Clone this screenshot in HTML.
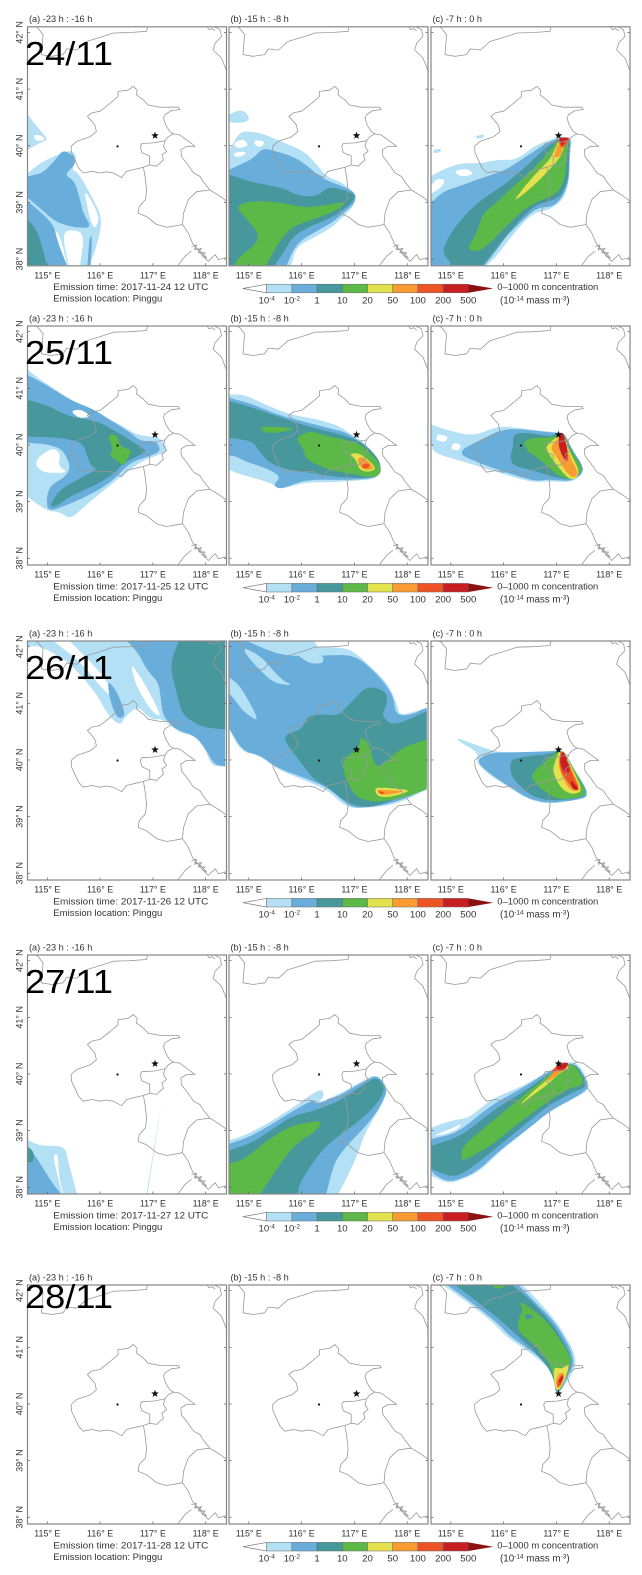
<!DOCTYPE html>
<html lang="en">
<head>
<meta charset="utf-8">
<title>Footprint concentration maps, Pinggu, 24-28 November 2017</title>
<style>
html,body{margin:0;padding:0;background:#fff;}
svg{display:block;font-family:"Liberation Sans",sans-serif;}
</style>
</head>
<body>
<svg id="chart" xmlns="http://www.w3.org/2000/svg" width="642" height="1575" viewBox="0 0 642 1575"></svg>
<script>
// ---------- labels ----------
const dayLabels = ['24/11','25/11','26/11','27/11','28/11'];
const emissionDates = ['2017-11-24','2017-11-25','2017-11-26','2017-11-27','2017-11-28'];
const panelTitles = ['(a) -23 h : -16 h','(b) -15 h : -8 h','(c) -7 h : 0 h'];
const lonTicks = [115,116,117,118];
const latTicks = [38,39,40,41,42];
const colorbarLabels = [['10','-4'],['10','-2'],['1',''],['10',''],['20',''],['50',''],['100',''],['200',''],['500','']];
const levelColors = ['#ffffff','#b4e0f5','#69aedb','#46989c','#5cb947','#e3e14e','#f99b33','#ee5325','#c81e22'];

// ---------- locations (lon, lat) ----------
const receptorStar = [117.04,40.18];
const cityDot = [116.33,39.99];

// ---------- boundaries (lon, lat) ----------
const beijingBorder = [[116.63,41.05],[116.70,40.98],[116.69,40.90],[116.82,40.81],[116.91,40.72],[117.13,40.68],[117.48,40.68],[117.51,40.64],[117.35,40.62],[117.23,40.55],[117.20,40.49],[117.24,40.37],[117.32,40.25],[117.39,40.21],[117.29,40.16],[117.23,40.09],[117.01,40.05],[116.79,40.04],[116.76,39.99],[116.79,39.88],[116.94,39.82],[116.94,39.66],[116.82,39.62],[116.63,39.58],[116.5,39.55],[116.41,39.44],[116.25,39.52],[116.12,39.54],[116,39.52],[115.84,39.55],[115.68,39.52],[115.59,39.61],[115.52,39.75],[115.46,39.87],[115.45,39.99],[115.56,40.08],[115.81,40.16],[115.93,40.25],[115.9,40.37],[115.76,40.52],[115.84,40.58],[116,40.61],[116.19,40.75],[116.34,40.87],[116.34,40.96],[116.53,40.98],[116.63,41.05]];
const innerBorder = [[117.23,40.09],[117.2,39.99],[117.26,39.9],[117.17,39.84],[117.2,39.75],[117.07,39.64],[116.94,39.66]];
const easternBorder = [[117.39,40.21],[117.51,40.19],[117.67,40.08],[117.8,39.99],[117.64,39.99],[117.53,39.93],[117.54,39.81],[117.64,39.69],[117.77,39.52],[117.89,39.46],[117.95,39.37],[118.08,39.22],[118.27,39.11],[118.4,39.02]];
const coastLine = [[118.08,39.22],[117.83,39.19],[117.67,39.05],[117.58,38.81],[117.56,38.61],[117.67,38.46],[117.75,38.28],[117.83,38.19],[117.95,38.05],[118.05,37.96],[118.18,38.08],[118.24,37.99],[118.4,38.03]];
const westernBorder = [[116.82,39.62],[116.85,39.46],[116.88,39.22],[116.86,39.05],[116.74,38.93],[116.72,38.81],[116.88,38.75],[117.07,38.61],[117.26,38.56],[117.45,38.59],[117.56,38.61]];
const southernBorder = [[117.48,37.89],[117.61,38.05],[117.73,38.14]];
const islandLine = [[117.73,38.22],[117.83,38.25],[117.79,38.16],[117.92,38.19],[117.86,38.11],[117.99,38.11],[117.93,38.06],[118.02,38.02],[117.88,38.16],[117.78,38.2]];
const northernBorder = [[114.75,42.11],[114.82,42.08],[114.92,41.96],[114.89,41.61],[115.08,41.58],[115.3,41.61],[115.37,41.71],[115.56,41.69],[115.74,41.84],[116.06,41.93],[116.25,41.99],[116.57,42],[116.88,42.02],[116.9,42.11]];
const northeastBorder = [[118.14,42.11],[118.27,42.05],[118.3,41.93],[118.18,41.81],[118.14,41.69],[118.3,41.55],[118.4,41.31]];
const smallBorder = [[118.02,42.11],[118.06,42.05],[118.12,42.07],[118.18,42.03]];
const boundaryLines = [beijingBorder,innerBorder,easternBorder,coastLine,westernBorder,southernBorder,islandLine,northernBorder,northeastBorder,smallBorder];

// ---------- concentration contours (lon, lat) ----------
// 24/11 panel a
const d24aL1a = [[114.63,40.55],[114.83,40.31],[115.02,40.11],[114.86,40.05],[114.63,39.93]];
const d24aGapA = [[114.74,40.2],[114.9,40.18],[114.96,40.1],[114.78,40.08]];
const d24aL1b = [[114.63,39.52],[114.86,39.69],[115.18,39.84],[115.46,39.93],[115.57,39.78],[115.46,39.58],[115.59,39.52],[115.81,39.16],[116.03,38.75],[116,38.46],[115.87,38.05],[115.78,37.89],[115.37,37.89],[115.3,38.22],[115.18,38.52],[114.63,38.81]];
const d24aHole1 = [[115.27,38.52],[115.71,38.49],[115.62,37.89],[115.4,37.89]];
const d24aHole2 = [[115.68,39.28],[116,38.75],[115.9,38.52],[115.81,38.69]];
const d24aL2a = [[114.63,39.46],[114.92,39.52],[115.15,39.75],[115.3,39.93],[115.52,39.81],[115.52,39.66],[115.33,39.49],[115.52,39.37],[115.62,39.05],[115.68,38.81],[115.84,38.55],[115.49,38.56],[115.15,38.66],[114.86,38.9],[114.63,39.08]];
const d24aL2b = [[114.63,39.02],[114.86,38.84],[115.12,38.6],[115.2,38.3],[115.37,37.89],[114.63,37.89]];
const d24aL2c = [[115.8,38.4],[115.85,38.4],[115.82,37.89],[115.76,37.89]];
const d24aL3 = [[114.63,38.69],[114.8,38.52],[114.92,38.16],[114.99,37.89],[114.63,37.89]];
// 24/11 panel b
const d24bL1a = [[114.63,39.93],[114.83,40.25],[115.08,40.25],[115.33,40.19],[115.52,40.11],[115.84,39.99],[116.09,39.87],[116.31,39.64],[116.47,39.46],[116.79,39.34],[117.04,39.14],[116.98,38.93],[116.79,38.75],[116.6,38.58],[116.34,38.43],[115.9,38.22],[115.8,37.89],[114.63,37.89]];
const d24bGapA = [[114.7,40.05],[114.9,40.12],[115,40],[114.78,39.95]];
const d24bGapB = [[115.1,40.1],[115.3,40.08],[115.25,39.98],[115.12,40]];
const d24bGapC = [[114.72,39.88],[114.95,39.9],[114.9,39.82],[114.72,39.8]];
const d24bL1b = [[114.63,40.55],[114.8,40.63],[114.95,40.6],[115.02,40.45],[114.85,40.4],[114.63,40.42]];
const d24bL2 = [[114.63,39.58],[114.89,39.69],[115.08,39.78],[115.27,39.96],[115.52,39.9],[115.84,39.81],[116.09,39.66],[116.34,39.46],[116.53,39.37],[116.79,39.28],[117.03,39.16],[117.01,38.99],[116.79,38.81],[116.6,38.66],[116.34,38.52],[116,38.34],[115.84,38.16],[115.72,37.89],[114.63,37.89]];
const d24bL3 = [[114.63,39.49],[115.02,39.37],[115.33,39.31],[115.65,39.25],[115.97,39.11],[116.28,39.11],[116.53,39.28],[116.79,39.22],[117.01,39.14],[116.98,39.02],[116.79,38.87],[116.6,38.75],[116.34,38.64],[116.16,38.58],[115.84,38.4],[115.65,38.11],[115.49,37.89],[114.63,37.89]];
const d24bL4 = [[114.89,38.99],[115.21,39.03],[115.65,38.99],[116.09,38.9],[116.53,38.96],[116.85,39.02],[116.72,38.9],[116.53,38.81],[116.28,38.72],[115.84,38.58],[115.59,38.34],[115.33,37.89],[114.73,37.89],[114.8,38.02],[115.15,38.28],[115.18,38.46],[114.92,38.75],[114.77,38.9]];
// 24/11 panel c
const d24cL1 = [[114.62,39.46],[114.85,39.58],[115.17,39.69],[115.55,39.69],[115.86,39.75],[116.24,39.75],[116.62,40.02],[116.94,40.12],[117.06,40.16],[117.3,40.15],[117.26,39.87],[117.24,39.37],[117.13,39.05],[116.87,38.87],[116.56,38.81],[116.31,38.58],[116.05,38.28],[115.86,38.05],[115.68,37.89],[114.62,37.89]];
const d24cGapA = [[114.62,39.3],[114.75,39.42],[114.9,39.4],[114.8,39.25],[114.62,39.15]];
const d24cGapB = [[115.05,39.55],[115.3,39.6],[115.45,39.5],[115.2,39.45]];
const d24cL1b = [[114.68,39.93],[114.82,39.95],[114.8,39.88],[114.66,39.87]];
const d24cL1c = [[115.48,40.18],[115.65,40.2],[115.6,40.13],[115.48,40.13]];
const d24cL2 = [[114.62,38.99],[114.85,39.19],[115.23,39.31],[115.68,39.46],[116.05,39.58],[116.43,39.81],[116.81,40.05],[117.06,40.14],[117.28,40.15],[117.25,39.87],[117.24,39.4],[117.13,39.11],[116.94,38.93],[116.62,38.9],[116.31,38.64],[116.05,38.4],[115.83,38.11],[115.64,37.89],[114.62,37.89]];
const d24cL3 = [[114.85,38.19],[115.04,38.52],[115.36,38.87],[115.68,39.11],[116.05,39.34],[116.43,39.64],[116.75,39.93],[117.06,40.14],[117.26,40.15],[117.24,39.81],[117.22,39.4],[117.09,39.11],[116.87,39.02],[116.62,38.96],[116.37,38.75],[116.09,38.46],[115.86,38.19],[115.61,37.89],[115.04,37.89],[114.89,38.05]];
const d24cL4 = [[115.3,38.16],[115.49,38.46],[115.61,38.81],[115.86,38.99],[116.18,39.28],[116.56,39.58],[116.94,39.99],[117.06,40.14],[117.25,40.15],[117.19,39.81],[117.16,39.4],[117.03,39.19],[116.91,39.11],[116.65,39.02],[116.37,38.87],[116.05,38.58],[115.74,38.28],[115.55,38.14]];
const d24cL5 = [[116.19,39.02],[116.37,39.25],[116.62,39.52],[116.87,39.75],[117,39.99],[117.05,40.11],[117.16,39.99],[117.06,39.78],[116.87,39.58],[116.62,39.34],[116.37,39.14]];
const d24cL6 = [[116.94,39.78],[117.03,40.05],[117.13,39.99],[117.08,39.81]];
const d24cL7 = [[117.01,40.14],[117.28,40.15],[117.16,39.99],[117.09,39.96]];
const d24cL8 = [[117.05,40.14],[117.25,40.14],[117.16,40.08],[117.11,39.99],[117.08,40.05]];
// 25/11 panel a
const d25aL1 = [[114.6,41.35],[114.86,41.16],[115.25,40.92],[115.64,40.69],[116.06,40.51],[116.41,40.34],[116.72,40.17],[117.15,40.13],[117.28,39.92],[117.15,39.84],[116.8,39.72],[116.49,39.51],[116.1,39.22],[115.71,38.92],[115.44,38.69],[115.25,38.81],[114.98,38.84],[114.6,39.1]];
const d25aHole1 = [[114.82,39.78],[115.09,39.95],[115.25,39.86],[115.21,39.63],[115.4,39.51],[114.94,39.51],[114.78,39.63]];
const d25aL2 = [[114.6,41.25],[115.02,41.04],[115.4,40.81],[115.87,40.63],[116.18,40.45],[116.57,40.22],[116.76,40.07],[117.07,40.07],[117.15,39.89],[116.95,39.81],[116.57,39.69],[116.26,39.39],[115.95,39.19],[115.48,38.98],[115.02,38.82],[114.98,39.04],[115.05,39.28],[115.36,39.45],[115.44,39.63],[115.29,39.92],[115.02,40.01],[114.6,40.04]];
const d25aHole2 = [[115.44,40.6],[115.64,40.63],[115.84,40.5],[115.6,40.47]];
const d25aL3 = [[114.6,40.81],[115.02,40.69],[115.4,40.51],[115.75,40.45],[116.02,40.39],[116.33,40.22],[116.6,40.07],[116.76,39.97],[116.88,39.89],[116.72,39.81],[116.41,39.66],[116.29,39.51],[115.95,39.31],[115.44,39.1],[115.13,38.89],[115.05,38.95],[115.25,39.22],[115.64,39.42],[115.95,39.57],[115.83,39.63],[115.75,39.81],[115.67,40.04],[115.25,40.13],[114.6,40.15]];
const d25aL4 = [[116.14,40.19],[116.33,40.17],[116.37,39.98],[116.6,39.91],[116.53,39.78],[116.45,39.63],[116.33,39.72],[116.18,39.81],[116.24,39.92]];
// 25/11 panel b
const d25bL1 = [[114.6,40.89],[114.91,40.89],[115.3,40.72],[115.77,40.54],[116.31,40.45],[116.7,40.34],[116.93,40.19],[117.16,40.07],[117.47,39.75],[117.51,39.51],[117.36,39.39],[116.85,39.36],[116.47,39.34],[116.08,39.34],[115.61,39.22],[115.38,39.34],[114.84,39.48],[114.6,39.57]];
const d25bL2 = [[114.6,40.84],[115.07,40.72],[115.53,40.54],[116,40.42],[116.47,40.31],[116.85,40.22],[117.09,40.07],[117.47,39.75],[117.51,39.51],[117.36,39.41],[116.85,39.38],[116.31,39.39],[116,39.36],[115.61,39.22],[115.46,39.28],[115.61,39.45],[115.3,39.6],[114.99,39.69],[114.72,39.81],[114.6,39.81]];
const d25bL3 = [[114.6,40.78],[115.07,40.66],[115.53,40.51],[116,40.36],[116.47,40.25],[116.93,40.13],[117.16,40.04],[117.47,39.75],[117.51,39.51],[117.36,39.42],[116.93,39.42],[116.54,39.45],[116.16,39.51],[115.69,39.57],[115.38,39.69],[115.22,39.86],[115.07,40.07],[114.6,40.13]];
const d25bL4a = [[115.88,40.13],[116.16,40.25],[116.47,40.16],[116.93,40.07],[117.16,39.98],[117.47,39.69],[117.51,39.51],[117.36,39.42],[117.01,39.48],[116.47,39.57],[116.08,39.75],[116.04,39.92]];
const d25bL4b = [[115.19,40.32],[115.61,40.32],[115.88,40.28],[115.53,40.21],[115.3,40.22]];
const d25bL5 = [[116.89,39.84],[117.09,39.86],[117.32,39.69],[117.41,39.57],[117.24,39.52],[117.09,39.57],[117.05,39.69],[116.99,39.78]];
const d25bL6 = [[117.05,39.72],[117.12,39.81],[117.32,39.66],[117.36,39.57],[117.16,39.56]];
const d25bL7 = [[117.15,39.66],[117.28,39.68],[117.28,39.6],[117.16,39.58]];
// 25/11 panel c
const d25cL1 = [[114.63,40.36],[114.98,40.25],[115.44,40.16],[115.91,40.34],[116.37,40.29],[116.99,40.22],[117.15,40.21],[117.3,39.92],[117.52,39.6],[117.46,39.45],[117.26,39.34],[116.84,39.36],[116.53,39.34],[115.91,39.51],[115.29,39.69],[114.67,39.86],[114.63,40.04]];
const d25cGapA = [[114.75,40.2],[114.95,40.15],[114.9,40.05],[114.72,40.08]];
const d25cGapB = [[115.05,40.05],[115.2,40],[115.15,39.9],[115,39.92]];
const d25cL2 = [[115.21,39.92],[115.52,40.07],[115.91,40.25],[116.22,40.29],[116.99,40.21],[117.15,40.22],[117.3,39.92],[117.52,39.6],[117.46,39.46],[117.26,39.36],[116.84,39.39],[116.6,39.36],[116.06,39.51],[115.6,39.66],[115.21,39.81]];
const d25cL3 = [[116.18,40.19],[116.45,40.22],[116.88,40.15],[116.99,40.19],[117.13,40.21],[117.3,39.89],[117.5,39.6],[117.44,39.47],[117.26,39.38],[116.88,39.45],[116.6,39.54],[116.18,39.63],[116.12,39.81],[116.18,39.95]];
const d25cL4 = [[116.37,40.07],[116.6,40.13],[116.88,40.13],[117.03,40.17],[117.13,40.22],[117.3,39.86],[117.49,39.6],[117.42,39.47],[117.26,39.38],[116.99,39.48],[116.68,39.75],[116.45,39.89]];
const d25cL5 = [[116.8,39.98],[116.99,40.13],[117.13,40.22],[117.26,39.86],[117.44,39.54],[117.36,39.39],[117.22,39.41],[116.99,39.66],[116.84,39.86]];
const d25cL6 = [[116.88,39.95],[117.03,40.13],[117.13,40.22],[117.24,39.81],[117.42,39.51],[117.34,39.42],[117.22,39.48],[117.03,39.75]];
const d25cL7 = [[117.03,40.13],[117.13,40.23],[117.22,39.81],[117.22,39.69],[117.11,39.78]];
const d25cL8 = [[117.05,40.19],[117.13,40.23],[117.21,39.92],[117.21,39.72],[117.11,39.81],[117.04,39.98]];
// 26/11 panel a
const d26aL1 = [[114.6,42.12],[118.37,42.12],[118.37,39.88],[118.12,39.89],[118,40.16],[117.81,40.42],[117.5,40.48],[117.19,40.72],[116.95,40.72],[116.72,40.95],[116.49,40.78],[116.37,40.6],[116.14,40.81],[115.95,41.13],[115.71,41.42],[115.33,41.78],[114.86,42.01],[114.6,42.01]];
const d26aHole1 = [[115.09,42.12],[115.4,42.12],[116.02,41.54],[116.33,41.07],[116.1,41.19],[115.64,41.72]];
const d26aHole2 = [[116.57,41.72],[116.8,41.42],[117.07,40.95],[117.15,40.75],[116.95,40.89],[116.68,41.31]];
const d26aL2a = [[116.49,42.12],[118.37,42.12],[118.37,39.89],[118.16,39.92],[118,40.19],[117.81,40.42],[117.42,40.54],[117.19,40.78],[117.15,41.07],[117.11,41.36],[116.88,41.6],[116.72,41.89]];
const d26aL2b = [[116.14,41.42],[116.33,41.19],[116.49,40.78],[116.33,40.72],[116.18,41.07]];
const d26aL3 = [[117.5,42.12],[118.37,42.12],[118.37,40.54],[117.96,40.57],[117.57,40.78],[117.46,41.13],[117.34,41.6],[117.38,41.84]];
// 26/11 panel b
const d26bL1 = [[114.6,42.12],[115.61,42.12],[116.16,42.01],[116.85,41.98],[117.09,41.84],[117.63,41.36],[117.82,40.95],[117.86,40.78],[118.37,40.92],[118.37,39.48],[118.02,39.31],[117.63,39.19],[117.24,39.16],[116.85,39.16],[116.47,39.48],[116,39.66],[115.53,39.84],[115.22,40.07],[114.84,40.16],[114.6,40.6]];
const d26bL2 = [[114.6,42.12],[114.91,42.12],[115.61,41.84],[116.31,41.84],[117.01,41.86],[117.47,41.48],[117.74,41.13],[117.78,40.81],[118.02,40.78],[118.37,40.92],[118.37,39.51],[118.02,39.34],[117.63,39.22],[117.24,39.16],[116.93,39.16],[116.5,39.51],[116.04,39.69],[115.53,39.86],[115.22,40.08],[114.88,40.16],[114.6,40.6]];
const d26bStripe1 = [[114.84,42.01],[115.22,41.84],[115.61,41.42],[115.84,41.31],[115.46,41.36],[115.07,41.72]];
const d26bStripe2 = [[115.61,42.12],[116.23,42.12],[116.47,41.72],[116.16,41.69],[115.84,41.91]];
const d26bStripe3 = [[114.6,41.48],[114.84,41.31],[115.22,40.66],[114.91,40.84],[114.68,41.13],[114.6,41.19]];
const d26bL3 = [[115.69,40.45],[116,40.54],[116.12,40.78],[116.39,40.81],[116.7,40.78],[116.93,41.01],[117.24,41.31],[117.59,41.22],[117.63,41.01],[117.51,40.78],[117.74,40.6],[118.37,40.86],[118.37,39.54],[117.63,39.25],[117.24,39.16],[116.93,39.22],[116.7,39.36],[116.47,39.54],[116.23,39.66],[116.04,39.89],[115.69,40.31]];
const d26bL4 = [[116.78,40.01],[117.09,40.22],[117.12,40.42],[117.28,40.28],[117.36,39.95],[117.47,39.86],[117.9,40.22],[118.37,40.36],[118.37,39.48],[118.02,39.36],[117.63,39.28],[117.32,39.26],[117.01,39.36],[116.81,39.72]];
const d26bL5 = [[117.38,39.51],[117.59,39.51],[118.05,39.47],[117.94,39.41],[117.63,39.34],[117.43,39.36]];
const d26bL6 = [[117.43,39.48],[117.59,39.47],[117.98,39.45],[117.63,39.38],[117.47,39.39]];
const d26bL7 = [[117.43,39.46],[117.59,39.42],[117.51,39.39]];
// 26/11 panel c
const d26cL1 = [[115.13,40.39],[115.52,40.25],[115.91,40.13],[116.45,40.13],[116.84,40.13],[117.03,40.19],[117.15,40.16],[117.3,39.89],[117.65,39.36],[117.3,39.28],[116.84,39.22],[116.45,39.31],[116.06,39.54],[115.75,39.72],[115.48,39.95],[115.52,40.13],[115.13,40.34]];
const d26cL2 = [[115.48,39.98],[115.71,40.13],[116.45,40.14],[117.03,40.16],[117.15,40.15],[117.3,39.89],[117.65,39.36],[117.3,39.28],[116.84,39.24],[116.49,39.31],[116.14,39.51],[115.75,39.75]];
const d26cL3 = [[116.14,40.01],[116.45,40.07],[116.84,40.1],[117.03,40.16],[117.15,40.15],[117.3,39.89],[117.61,39.38],[117.3,39.31],[116.88,39.28],[116.53,39.36],[116.18,39.66],[116.12,39.84]];
const d26cL4 = [[116.49,39.72],[116.76,39.95],[116.91,40.07],[117.03,40.16],[117.15,40.15],[117.3,39.89],[117.6,39.38],[117.3,39.32],[116.99,39.31],[116.68,39.51]];
const d26cL5 = [[116.93,39.84],[116.99,40.01],[117.05,40.16],[117.15,40.15],[117.3,39.86],[117.5,39.45],[117.3,39.39],[117.11,39.48],[116.99,39.66]];
const d26cL6 = [[117.03,39.89],[117.07,40.1],[117.15,40.13],[117.29,39.84],[117.46,39.48],[117.34,39.44],[117.19,39.54]];
const d26cL7 = [[117.05,40.01],[117.09,40.15],[117.16,40.13],[117.29,39.78],[117.44,39.48],[117.34,39.47],[117.22,39.6],[117.09,39.78]];
const d26cL8a = [[117.09,40.13],[117.15,40.14],[117.26,39.84],[117.22,39.75],[117.13,39.81],[117.07,39.95]];
const d26cL8b = [[117.26,39.66],[117.38,39.54],[117.42,39.47],[117.3,39.48]];
// 27/11 panel a
const d27aL1a = [[114.6,38.85],[114.86,38.73],[115.33,38.73],[115.4,38.44],[115.56,37.89],[114.6,37.89]];
const d27aGap = [[115.1,38.55],[115.2,38.6],[115.22,38.2],[115.3,37.89],[115.28,37.89]];
const d27aL1b = [[116.88,37.89],[117.14,39.38],[117.145,39.38],[116.9,37.89]];
const d27aL2 = [[114.6,38.76],[114.78,38.55],[115.09,38.08],[115.25,37.89],[114.6,37.89]];
const d27aL3 = [[114.6,38.73],[114.74,38.64],[114.74,38.44],[114.6,38.44]];
// 27/11 panel b
const d27bL1 = [[114.6,38.82],[114.91,38.91],[115.38,39.14],[115.84,39.41],[116.23,39.67],[116.39,39.73],[116.43,39.61],[116.31,39.49],[116.7,39.64],[117.09,39.85],[117.43,40.01],[117.64,39.73],[117.47,39.38],[117.2,38.96],[117.05,38.55],[116.81,38.08],[116.7,37.89],[114.6,37.89]];
const d27bL2 = [[114.6,38.76],[114.99,38.88],[115.38,39.08],[115.84,39.35],[116.23,39.55],[116.27,39.46],[116.7,39.61],[117.09,39.82],[117.43,39.99],[117.64,39.73],[117.47,39.38],[117.16,39.02],[116.85,38.73],[116.62,38.44],[116.47,37.89],[114.6,37.89]];
const d27bL3 = [[114.6,38.64],[115.07,38.79],[115.53,39.08],[115.84,39.26],[116.23,39.35],[116.7,39.52],[117.09,39.76],[117.43,39.96],[117.59,39.73],[117.4,39.44],[117.09,39.17],[116.78,38.96],[116.39,38.67],[116,38.14],[115.92,37.89],[114.6,37.89]];
const d27bL4 = [[114.6,38.41],[114.91,38.49],[115.3,38.79],[115.77,39.08],[116.39,39.19],[116.31,39.02],[115.84,38.73],[115.53,38.32],[115.22,37.89],[114.6,37.89]];
// 27/11 panel c
const d27cL1 = [[114.63,39.05],[114.98,39.17],[115.36,39.23],[115.75,39.55],[116.37,39.79],[116.84,40.05],[117.3,40.25],[117.5,40.08],[117.65,39.73],[117.3,39.55],[116.84,39.32],[116.37,38.96],[115.91,38.61],[115.52,38.26],[114.98,38.05],[114.63,38.2]];
const d27cGap = [[114.67,38.91],[115.05,39.05],[115.21,39.13],[115.13,39.02],[114.82,38.92]];
const d27cL2 = [[114.63,38.85],[115.13,38.96],[115.75,39.44],[116.37,39.76],[116.84,40.04],[117.34,40.24],[117.64,39.79],[117.46,39.64],[116.88,39.35],[116.45,39.02],[115.91,38.64],[115.48,38.26],[114.98,38.08],[114.67,38.23],[114.63,38.32]];
const d27cL3 = [[114.63,38.73],[115.21,38.91],[115.83,39.38],[116.45,39.73],[116.88,40.02],[117.34,40.23],[117.61,39.79],[117.3,39.67],[116.84,39.44],[116.37,39.08],[115.83,38.67],[115.36,38.32],[115.05,38.17],[114.63,38.32]];
const d27cL4 = [[115.21,38.7],[115.52,38.96],[116.14,39.44],[116.6,39.79],[116.91,40.02],[117.3,40.23],[117.57,39.82],[117.19,39.73],[116.76,39.46],[116.29,39.14],[115.75,38.73],[115.29,38.49],[115.19,38.49]];
const d27cL5 = [[116.26,39.41],[116.53,39.67],[116.84,39.91],[117.11,40.17],[117.26,40.11],[117.07,40.02],[116.8,39.79],[116.53,39.61]];
const d27cL6 = [[116.8,39.88],[116.99,40.08],[117.22,40.17],[117.11,40.05],[116.88,39.88]];
const d27cL7 = [[116.88,40.02],[117.03,40.17],[117.24,40.2],[117.15,40.05],[117.03,40.05]];
const d27cL8 = [[116.98,40.11],[117.11,40.2],[117.24,40.2],[117.16,40.09],[117.05,40.07]];
// 28/11 panel c
const d28cL1 = [[114.82,42.12],[116.33,42.12],[116.6,41.88],[116.99,41.47],[117.3,41],[117.38,40.71],[117.26,40.47],[117.09,40.24],[116.99,40.18],[116.95,40.47],[116.84,40.65],[116.45,40.94],[116.06,41.18],[115.83,41.41],[115.44,41.71]];
const d28cL2 = [[114.9,42.12],[116.26,42.12],[116.57,41.82],[116.95,41.47],[117.26,41],[117.34,40.71],[117.22,40.5],[117.09,40.24],[116.99,40.19],[116.95,40.47],[116.88,40.65],[116.53,40.94],[116.14,41.18],[115.87,41.44],[115.44,41.76]];
const d28cL3 = [[115.05,42.12],[116.14,42.12],[116.49,41.85],[116.91,41.44],[117.22,40.97],[117.3,40.71],[117.19,40.5],[117.09,40.26],[116.99,40.19],[116.95,40.44],[116.84,40.65],[116.57,40.94],[116.22,41.24],[115.91,41.5],[115.52,41.79]];
const d28cL4a = [[116.29,41.82],[116.53,41.68],[116.84,41.44],[117.19,40.97],[117.29,40.74],[117.19,40.56],[117.09,40.26],[117.01,40.24],[116.95,40.47],[116.88,40.71],[116.6,41.03],[116.26,41.29],[116.29,41.53],[116.37,41.65]];
const d28cL4b = [[115.79,42.12],[116.02,42.12],[116.02,42.06],[115.83,42.03]];
const d28cPocket = [[116.41,41.59],[116.57,41.56],[116.53,41.5],[116.41,41.5]];
const d28cL5 = [[116.95,40.65],[117.11,40.62],[117.24,40.72],[117.22,40.59],[117.15,40.41],[117.07,40.26],[116.99,40.24],[116.95,40.44]];
const d28cL6 = [[116.99,40.44],[117.07,40.56],[117.16,40.53],[117.09,40.32],[117.01,40.26]];
const d28cL7 = [[117.01,40.38],[117.09,40.52],[117.15,40.5],[117.09,40.34],[117.02,40.29]];
const d28cL8 = [[117.04,40.4],[117.11,40.5],[117.13,40.47],[117.07,40.36]];

// each entry: day index, panel index, contour level, contour
const contourLayers = [
 [0,0,1,d24aL1a],[0,0,0,d24aGapA],[0,0,1,d24aL1b],[0,0,0,d24aHole1],[0,0,0,d24aHole2],[0,0,2,d24aL2a],[0,0,2,d24aL2b],[0,0,2,d24aL2c],[0,0,3,d24aL3],
 [0,1,1,d24bL1a],[0,1,0,d24bGapA],[0,1,0,d24bGapB],[0,1,0,d24bGapC],[0,1,1,d24bL1b],[0,1,2,d24bL2],[0,1,3,d24bL3],[0,1,4,d24bL4],
 [0,2,1,d24cL1],[0,2,0,d24cGapA],[0,2,0,d24cGapB],[0,2,1,d24cL1b],[0,2,1,d24cL1c],[0,2,2,d24cL2],[0,2,3,d24cL3],[0,2,4,d24cL4],[0,2,5,d24cL5],[0,2,6,d24cL6],[0,2,7,d24cL7],[0,2,8,d24cL8],
 [1,0,1,d25aL1],[1,0,0,d25aHole1],[1,0,2,d25aL2],[1,0,0,d25aHole2],[1,0,3,d25aL3],[1,0,4,d25aL4],
 [1,1,1,d25bL1],[1,1,2,d25bL2],[1,1,3,d25bL3],[1,1,4,d25bL4a],[1,1,4,d25bL4b],[1,1,5,d25bL5],[1,1,6,d25bL6],[1,1,7,d25bL7],
 [1,2,1,d25cL1],[1,2,0,d25cGapA],[1,2,0,d25cGapB],[1,2,2,d25cL2],[1,2,3,d25cL3],[1,2,4,d25cL4],[1,2,5,d25cL5],[1,2,6,d25cL6],[1,2,7,d25cL7],[1,2,8,d25cL8],
 [2,0,1,d26aL1],[2,0,0,d26aHole1],[2,0,0,d26aHole2],[2,0,2,d26aL2a],[2,0,2,d26aL2b],[2,0,3,d26aL3],
 [2,1,1,d26bL1],[2,1,2,d26bL2],[2,1,1,d26bStripe1],[2,1,1,d26bStripe2],[2,1,1,d26bStripe3],[2,1,3,d26bL3],[2,1,4,d26bL4],[2,1,5,d26bL5],[2,1,6,d26bL6],[2,1,7,d26bL7],
 [2,2,1,d26cL1],[2,2,2,d26cL2],[2,2,3,d26cL3],[2,2,4,d26cL4],[2,2,5,d26cL5],[2,2,6,d26cL6],[2,2,7,d26cL7],[2,2,8,d26cL8a],[2,2,8,d26cL8b],
 [3,0,1,d27aL1a],[3,0,0,d27aGap],[3,0,1,d27aL1b],[3,0,2,d27aL2],[3,0,3,d27aL3],
 [3,1,1,d27bL1],[3,1,2,d27bL2],[3,1,3,d27bL3],[3,1,4,d27bL4],
 [3,2,1,d27cL1],[3,2,0,d27cGap],[3,2,2,d27cL2],[3,2,3,d27cL3],[3,2,4,d27cL4],[3,2,5,d27cL5],[3,2,6,d27cL6],[3,2,7,d27cL7],[3,2,8,d27cL8],
 [4,2,1,d28cL1],[4,2,2,d28cL2],[4,2,3,d28cL3],[4,2,4,d28cL4a],[4,2,4,d28cL4b],[4,2,3,d28cPocket],[4,2,5,d28cL5],[4,2,6,d28cL6],[4,2,7,d28cL7],[4,2,8,d28cL8]
];

// ---------- layout and axes ----------
const svg = document.getElementById('chart');
const NS = 'http://www.w3.org/2000/svg';
const rowTops = [26.8,326,641,955,1285];
const panelLefts = [27.5,229,431];
const panelW = 199, panelH = 239;
const lonMin = 114.625, latMax = 42.1, pxPerLon = 52.8, pxPerLat = 56.65;
const xAxis = (lon, p) => panelLefts[p] + (lon - lonMin) * pxPerLon;
const yAxis = (lat, r) => rowTops[r] + (latMax - lat) * pxPerLat;
const barLeft = 266.7, barStep = 25.2;
const barX = i => barLeft + i * barStep;

function mk(tag, attrs, parent) {
  const el = document.createElementNS(NS, tag);
  for (const k in attrs) el.setAttribute(k, attrs[k]);
  parent.appendChild(el);
  return el;
}
const pts = (arr, r, p) => arr.map(c => xAxis(c[0], p).toFixed(1) + ',' + yAxis(c[1], r).toFixed(1)).join(' ');

// round contour corners, leaving vertices on the map edge untouched
const onEdge = c => c[0] <= 114.64 || c[0] >= 118.36 || c[1] <= 37.9 || c[1] >= 42.11;
function rounded(arr) {
  let cur = arr;
  for (let it = 0; it < 2; it++) {
    const out = [];
    cur.forEach((c, i) => {
      if (onEdge(c)) { out.push(c); return; }
      const a = cur[(i - 1 + cur.length) % cur.length], b = cur[(i + 1) % cur.length];
      out.push([c[0] + (a[0] - c[0]) * 0.22, c[1] + (a[1] - c[1]) * 0.22]);
      out.push([c[0] + (b[0] - c[0]) * 0.22, c[1] + (b[1] - c[1]) * 0.22]);
    });
    cur = out;
  }
  return cur;
}

function starPoints(cx, cy, R) {
  const out = [];
  for (let i = 0; i < 10; i++) {
    const rad = i % 2 ? R * 0.42 : R;
    const a = -Math.PI / 2 + i * Math.PI / 5;
    out.push((cx + rad * Math.cos(a)).toFixed(1) + ',' + (cy + rad * Math.sin(a)).toFixed(1));
  }
  return out.join(' ');
}

dayLabels.forEach((day, r) => {
  const top = rowTops[r], bottom = top + panelH;
  const row = mk('g', {}, svg);
  
  

  panelTitles.forEach((title, p) => {
    const left = panelLefts[p];
    const panel = mk('g', {}, row);
    
    

    const clipId = 'clip-' + r + '-' + p;
    const clip = mk('clipPath', {id: clipId}, panel);
    mk('rect', {x: left, y: top, width: panelW, height: panelH}, clip);

    const plume = mk('g', {'clip-path': 'url(#' + clipId + ')'}, panel);
    
    
    const soft = mk('g', {style: 'filter:blur(.35px)'}, plume);
    contourLayers.filter(l => l[0] === r && l[1] === p).forEach(l => {
      const poly = mk('polygon', {points: pts(rounded(l[3]), r, p), fill: levelColors[l[2]]}, soft);
      
      
    });

    const borders = mk('g', {'clip-path': 'url(#' + clipId + ')', fill: 'none', stroke: '#999999', 'stroke-width': '0.8', 'stroke-linejoin': 'round'}, panel);
    
    
    boundaryLines.forEach(line => {
      const pl = mk('polyline', {points: pts(line, r, p)}, borders);
      
      
    });

    const dot = mk('circle', {cx: xAxis(cityDot[0], p), cy: yAxis(cityDot[1], r), r: 1.1, fill: '#111'}, panel);
    
    
    const star = mk('polygon', {points: starPoints(xAxis(receptorStar[0], p), yAxis(receptorStar[1], r), 4), fill: '#111'}, panel);
    
    

    latTicks.forEach(lat => {
      const y = yAxis(lat, r);
      const t1 = mk('line', {x1: left, x2: left + 2.5, y1: y, y2: y, stroke: '#555', 'stroke-width': '0.7'}, panel);
      
      
      const t2 = mk('line', {x1: left + panelW - 2.5, x2: left + panelW, y1: y, y2: y, stroke: '#555', 'stroke-width': '0.7'}, panel);
      
      
      if (p === 0) {
        const lab = mk('text', {x: 0, y: 0, transform: 'translate(22.5,' + y + ') rotate(-90)', 'text-anchor': 'middle', 'font-size': '9', fill: '#333'}, panel);
        lab.textContent = lat + '\u00b0 N';
        
        
      }
    });
    lonTicks.forEach(lon => {
      const x = xAxis(lon, p);
      const t1 = mk('line', {x1: x, x2: x, y1: bottom - 2.5, y2: bottom, stroke: '#555', 'stroke-width': '0.7'}, panel);
      
      
      const lab = mk('text', {x: x, y: bottom + 12.6, 'text-anchor': 'middle', 'font-size': '8.9', fill: '#333'}, panel);
      lab.textContent = lon + '\u00b0 E';
      
      
    });

    const frame = mk('rect', {x: left, y: top, width: panelW, height: panelH, fill: 'none', stroke: '#858585', 'stroke-width': '1.2'}, panel);
    
    

    const ttl = mk('text', {x: left + 1.5, y: top - 4.6, 'font-size': '9.2', fill: '#333'}, panel);
    ttl.textContent = title;
    
    
  });

  // emission captions
  const cap1 = mk('text', {x: 53.3, y: bottom + 24.4, 'font-size': '9.3', fill: '#333', textLength: 155, lengthAdjust: 'spacingAndGlyphs'}, row);
  cap1.textContent = 'Emission time:  ' + emissionDates[r] + '  12 UTC';
  
  
  const cap2 = mk('text', {x: 53.3, y: bottom + 35.8, 'font-size': '9.3', fill: '#333', textLength: 109, lengthAdjust: 'spacingAndGlyphs'}, row);
  cap2.textContent = 'Emission location: Pinggu';
  
  

  // colour bar
  const bar = mk('g', {}, row);
  
  
  const by = bottom + 18.4, bh = 8.6;
  const leftCap = mk('polygon', {points: (barX(0) - 24) + ',' + (by + bh / 2) + ' ' + barX(0) + ',' + by + ' ' + barX(0) + ',' + (by + bh), fill: '#fff', stroke: '#777', 'stroke-width': '0.7'}, bar);
  
  
  levelColors.slice(1).forEach((c, i) => {
    const box = mk('rect', {x: barX(i), y: by, width: barStep, height: bh, fill: c, stroke: '#666', 'stroke-width': '0.5'}, bar);
    
    
  });
  const rightCap = mk('polygon', {points: barX(8) + ',' + by + ' ' + (barX(8) + 25) + ',' + (by + bh / 2) + ' ' + barX(8) + ',' + (by + bh), fill: '#8c1212'}, bar);
  
  
  colorbarLabels.forEach((lab, i) => {
    const t = mk('text', {x: barX(i), y: bottom + 37.6, 'text-anchor': 'middle', 'font-size': '9.6', fill: '#333'}, bar);
    
    
    t.appendChild(document.createTextNode(lab[0]));
    if (lab[1]) {
      const s = mk('tspan', {dy: '-3', 'font-size': '6.4'}, t);
      s.textContent = lab[1];
    }
  });
  const unit1 = mk('text', {x: 497.3, y: bottom + 24.4, 'font-size': '9.4', fill: '#333', textLength: 101, lengthAdjust: 'spacingAndGlyphs'}, bar);
  unit1.textContent = '0\u20131000 m concentration';
  
  
  const unit2 = mk('text', {x: 500, y: bottom + 37.6, 'font-size': '9.8', fill: '#333'}, bar);
  
  
  unit2.appendChild(document.createTextNode('(10'));
  const e1 = mk('tspan', {dy: '-3', 'font-size': '6.5'}, unit2);
  e1.textContent = '-14';
  const m1 = mk('tspan', {dy: '3'}, unit2);
  m1.textContent = ' mass m';
  const e2 = mk('tspan', {dy: '-3', 'font-size': '6.5'}, unit2);
  e2.textContent = '-3';
  const m2 = mk('tspan', {dy: '3'}, unit2);
  m2.textContent = ')';

  // date overlay
  const dateOffset = r === 4 ? 23 : 38;
  const date = mk('text', {x: 25, y: top + dateOffset, 'font-size': '33', fill: '#000', textLength: 88, lengthAdjust: 'spacingAndGlyphs'}, row);
  date.textContent = day;
  
  
});
</script>
</body>
</html>
